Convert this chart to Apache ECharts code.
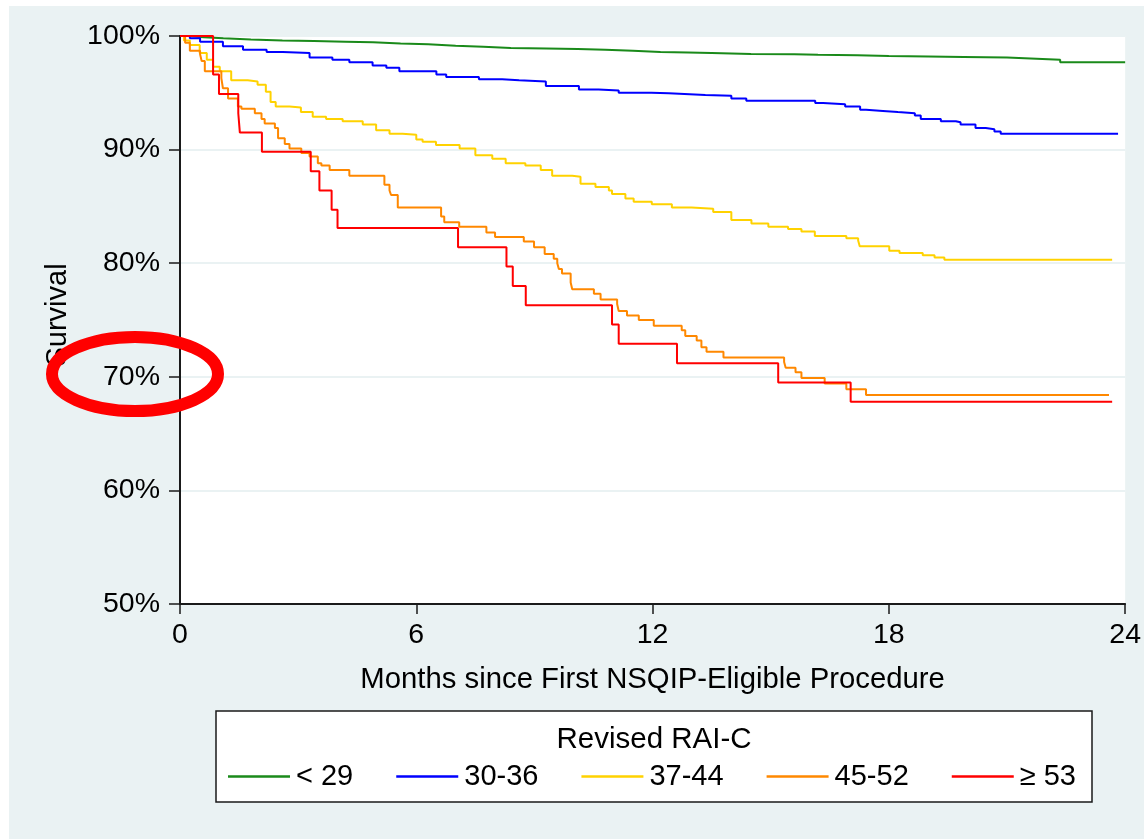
<!DOCTYPE html>
<html>
<head>
<meta charset="utf-8">
<script src="https://cdn.jsdelivr.net/npm/echarts@6/dist/echarts.min.js"></script>
<style>
  html, body { margin: 0; padding: 0; background: #ffffff; }
  #chart { width: 1144px; height: 839px; }
</style>
</head>
<body>
<div id="chart"></div>
<script>
// Kaplan-Meier survival by Revised RAI-C group: [month, survival %] at each step
const groupNames = ['< 29', '30-36', '37-44', '45-52', '≥ 53'];
const groupColors = ['#1a8a1a', '#0000ff', '#ffd200', '#ff8800', '#ff0000'];

const survLt29 = [
  [0, 100], [0.25, 99.9], [0.6, 99.8], [1.1, 99.7], [1.8, 99.6], [2.6, 99.55],
  [3.4, 99.5], [4.2, 99.45], [4.9, 99.35], [5.6, 99.27], [6.3, 99.15], [7.0, 99.05],
  [7.7, 98.95], [8.4, 98.9], [9.3, 98.85], [10.1, 98.8], [10.8, 98.7], [11.5, 98.6],
  [12.2, 98.55], [12.9, 98.5], [13.5, 98.42], [14.5, 98.4], [15.6, 98.35], [16.2, 98.3],
  [17.2, 98.25], [18.0, 98.2], [19.0, 98.15], [19.9, 98.1], [21.0, 97.98], [21.9, 97.9],
  [22.35, 97.7], [24.0, 97.7]
];

const surv30to36 = [
  [0, 100], [0.25, 99.8], [0.51, 99.5], [1.09, 99.1], [1.6, 98.8], [2.2, 98.6],
  [2.61, 98.5], [3.29, 98.1], [3.87, 97.9], [4.3, 97.7], [4.89, 97.4], [5.24, 97.2],
  [5.57, 96.9], [6.51, 96.6], [6.76, 96.4], [7.59, 96.2], [8.18, 96.1], [8.61, 96.0],
  [9.29, 95.6], [10.13, 95.3], [10.63, 95.2], [11.14, 95.0], [11.97, 94.95], [12.41, 94.8],
  [13.34, 94.74], [14.0, 94.5], [14.38, 94.3], [16.13, 94.1], [16.33, 94.0], [16.89, 93.8],
  [17.27, 93.5], [17.42, 93.4], [17.85, 93.3], [18.23, 93.2], [18.66, 93.0], [18.81, 92.7],
  [19.32, 92.5], [19.7, 92.4], [19.82, 92.2], [20.2, 91.9], [20.46, 91.8], [20.68, 91.6],
  [20.84, 91.4], [23.82, 91.4]
];

const surv37to44 = [
  [0, 100], [0.1, 99.6], [0.25, 99.2], [0.5, 98.5], [0.68, 97.9], [0.84, 97.3],
  [1.01, 96.9], [1.3, 96.1], [1.72, 96.0], [1.97, 95.7], [2.18, 95.1], [2.3, 94.2],
  [2.43, 93.8], [2.78, 93.7], [3.07, 93.3], [3.37, 92.9], [3.71, 92.7], [4.13, 92.5],
  [4.64, 92.2], [4.98, 91.7], [5.32, 91.4], [5.65, 91.3], [6.0, 90.9], [6.16, 90.7],
  [6.5, 90.4], [7.1, 90.1], [7.5, 89.5], [7.93, 89.2], [8.27, 88.8], [8.77, 88.6],
  [9.16, 88.2], [9.45, 87.7], [9.96, 87.6], [10.17, 87.0], [10.55, 86.7], [10.89, 86.4],
  [10.97, 86.1], [11.31, 85.7], [11.52, 85.4], [11.98, 85.2], [12.49, 84.9], [12.99, 84.8],
  [13.54, 84.5], [14.0, 83.8], [14.51, 83.5], [14.94, 83.2], [15.44, 83.0], [15.78, 82.8],
  [16.12, 82.4], [16.92, 82.2], [17.22, 82.0], [17.26, 81.5], [18.01, 81.1], [18.27, 80.9],
  [18.86, 80.7], [19.16, 80.5], [19.41, 80.3], [23.67, 80.3]
];

const surv45to52 = [
  [0, 100], [0.13, 99.4], [0.25, 98.7], [0.51, 98.4], [0.55, 97.8], [0.63, 96.9],
  [1.05, 96.3], [1.09, 95.4], [1.22, 94.5], [1.47, 93.8], [1.56, 93.6], [1.9, 93.2],
  [2.07, 92.7], [2.15, 92.3], [2.41, 91.9], [2.49, 91.0], [2.66, 90.5], [2.78, 90.1],
  [3.08, 89.7], [3.29, 89.4], [3.5, 88.8], [3.59, 88.6], [3.8, 88.2], [4.3, 87.7],
  [5.19, 86.9], [5.32, 86.4], [5.36, 86.0], [5.53, 84.9], [6.63, 84.1], [6.71, 83.6],
  [7.09, 83.2], [7.78, 82.7], [8.0, 82.3], [8.73, 81.9], [8.99, 81.4], [9.26, 80.8],
  [9.49, 80.4], [9.58, 80.0], [9.62, 79.5], [9.7, 79.1], [9.92, 78.3], [9.96, 77.7],
  [10.51, 77.3], [10.68, 76.8], [11.1, 76.4], [11.14, 75.8], [11.35, 75.4], [11.65, 75.0],
  [12.03, 74.5], [12.74, 74.1], [12.83, 73.6], [13.12, 73.2], [13.24, 72.6], [13.37, 72.2],
  [13.8, 71.7], [15.34, 71.3], [15.38, 70.8], [15.63, 70.4], [15.78, 69.9], [16.37, 69.4],
  [16.92, 68.9], [17.42, 68.4], [23.59, 68.4]
];

const survGe53 = [
  [0, 100], [0.84, 96.6], [0.99, 94.9], [1.48, 93.2], [1.52, 91.5], [2.08, 89.8],
  [3.32, 88.1], [3.54, 86.4], [3.85, 84.7], [4.0, 83.1], [7.06, 81.4], [8.29, 79.7],
  [8.45, 78.0], [8.78, 76.3], [10.97, 74.6], [11.14, 72.9], [12.62, 71.2], [15.19, 69.5],
  [17.03, 67.8], [23.67, 67.8]
];

const monthTicks = [0, 6, 12, 18, 24];
const survivalTicks = [50, 60, 70, 80, 90, 100];

const groupData = [survLt29, surv30to36, surv37to44, surv45to52, survGe53];

const FONT = '"Liberation Sans", Arial, Helvetica, sans-serif';
const chart = echarts.init(document.getElementById('chart'), null, { renderer: 'canvas' });

chart.setOption({
  animation: false,
  backgroundColor: '#eaf2f3',
  grid: {
    left: 180, top: 36, right: 16, bottom: 235,
    show: true, backgroundColor: '#ffffff', borderWidth: 0
  },
  xAxis: {
    type: 'value',
    min: monthTicks[0], max: monthTicks[monthTicks.length - 1], interval: 6,
    name: 'Months since First NSQIP-Eligible Procedure',
    nameLocation: 'middle', nameGap: 61,
    nameTextStyle: { fontFamily: FONT, fontSize: 29.3, color: '#000' },
    axisLine: { show: true, onZero: false, lineStyle: { color: '#1a1a1a', width: 2 } },
    axisTick: { show: true, length: 10, lineStyle: { color: '#1a1a1a', width: 1.5 } },
    axisLabel: { fontFamily: FONT, fontSize: 28.5, color: '#000', margin: 17 },
    splitLine: { show: false }
  },
  yAxis: {
    type: 'value',
    min: survivalTicks[0], max: survivalTicks[survivalTicks.length - 1], interval: 10,
    axisLine: { show: true, onZero: false, lineStyle: { color: '#1a1a1a', width: 2 } },
    axisTick: { show: true, length: 11, lineStyle: { color: '#1a1a1a', width: 1.5 } },
    axisLabel: { fontFamily: FONT, fontSize: 28.5, color: '#000', margin: 20, formatter: '{value}%' },
    splitLine: { show: true, lineStyle: { color: '#eaf2f3', width: 2 } }
  },
  legend: {
    data: groupNames,
    left: 228, top: 762,
    orient: 'horizontal',
    padding: 0,
    itemGap: 43,
    itemWidth: 62, itemHeight: 2.5,
    icon: 'rect',
    textStyle: { fontFamily: FONT, fontSize: 29, color: '#000', padding: [0, 0, 0, 1] },
    z: 10
  },
  graphic: [
    // white margin at the top and left edges
    { type: 'rect', shape: { x: 0, y: 0, width: 1144, height: 6 }, style: { fill: '#ffffff' }, silent: true },
    { type: 'rect', shape: { x: 0, y: 0, width: 9, height: 839 }, style: { fill: '#ffffff' }, silent: true },
    // legend frame and title
    { type: 'rect', z: 1, shape: { x: 216, y: 711, width: 876, height: 91 },
      style: { fill: '#ffffff', stroke: '#1a1a1a', lineWidth: 1.5 } },
    { type: 'text', z: 2, x: 654, y: 740,
      style: { text: 'Revised RAI-C', font: '29.5px ' + FONT, fill: '#000', align: 'center', verticalAlign: 'middle' } },
    // y-axis title
    { type: 'text', z: 2, x: 58, y: 315, rotation: Math.PI / 2,
      style: { text: 'Survival', font: '29px ' + FONT, fill: '#000', align: 'center', verticalAlign: 'middle' } },
    // hand-drawn highlight round the 70% label
    { type: 'ellipse', z: 100, shape: { cx: 135, cy: 374, rx: 83, ry: 37 },
      style: { fill: 'none', stroke: '#ff0000', lineWidth: 12 } }
  ],
  series: groupNames.map((name, i) => ({
    name: name,
    type: 'line',
    step: 'end',
    data: groupData[i],
    showSymbol: false,
    symbol: 'none',
    clip: false,
    color: groupColors[i],
    lineStyle: { color: groupColors[i], width: 2 },
    z: 2 + i
  }))
});
</script>
</body>
</html>
